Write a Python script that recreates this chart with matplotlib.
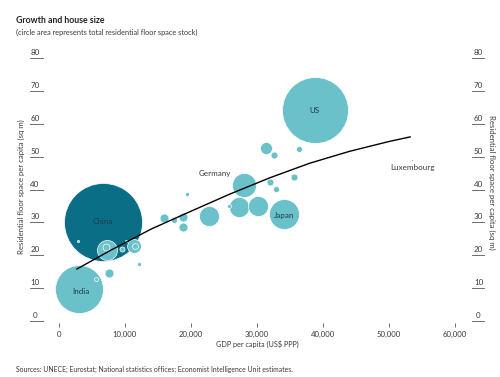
import matplotlib
matplotlib.use("Agg")
import matplotlib.pyplot as plt
from matplotlib import transforms

plt.rcParams['font.family'] = ['Lato', 'DejaVu Sans']

# GDP per capita (US$ PPP), floor space per capita (sq m), total stock (bn sq m)
gdp = [6700, 3000, 38800, 34100, 28000, 27300, 30150, 22700, 7270, 7120,
       11360, 11500, 9550, 10150, 2880, 12120, 5600, 7580, 19400, 15900,
       17400, 18800, 18800, 25760, 31360, 32580, 36360, 31970, 32880, 35600,
       53500]
floor = [30.1, 9.7, 64.2, 32.5, 41.4, 34.7, 35.0, 31.9, 21.6, 22.5,
         22.8, 22.8, 21.9, 24.3, 24.3, 17.3, 12.8, 14.6, 38.6, 31.3,
         30.7, 31.6, 28.6, 35.0, 52.6, 50.5, 52.3, 42.3, 40.2, 43.8,
         49.0]
stock = [38.0, 14.4, 27.2, 5.6, 3.6, 2.5, 2.5, 2.5, 2.5, 0.3,
         1.2, 0.22, 0.16, 0.03, 0.03, 0.1, 0.1, 0.5, 0.1, 0.5,
         0.23, 0.5, 0.5, 0.1, 0.9, 0.3, 0.23, 0.3, 0.23, 0.3,
         0.02]
names = ["China", "India", "US", "Japan", "Germany"]

# trend line
trend_x = [2700, 8000, 14000, 20000, 26000, 32000, 38000, 44000, 50000, 53200]
trend_y = [15.8, 21.7, 28.0, 33.4, 38.7, 43.6, 48.0, 51.6, 54.6, 56.0]

x_ticks = [0, 10000, 20000, 30000, 40000, 50000, 60000]
y_ticks = [0, 10, 20, 30, 40, 50, 60, 70, 80]

light = '#6bc1c9'
dark = '#0b6e87'
txt = '#3a3a3a'

fig = plt.figure(figsize=(5, 3.77), dpi=100)
ax = fig.add_axes([59/500, 56/377, 396/500, 263/377])
ax.set_xlim(0, 60000)
ax.set_ylim(0, 80)
for s in ax.spines.values():
    s.set_visible(False)
ax.spines['bottom'].set_position(('outward', 1.5))
ax.set_yticks([])
ax.set_xticks(x_ticks)
ax.set_xticklabels([f"{v:,}" for v in x_ticks])
ax.tick_params(axis='x', length=3, width=0.6, color='#555555', pad=2.5,
               labelsize=5.6, labelcolor=txt)

# bubbles, biggest first
order = sorted(range(len(gdp)), key=lambda i: -stock[i])
for i in order:
    ax.scatter(gdp[i], floor[i], s=stock[i] * 83,
               color=dark if i == 0 else light,
               edgecolors='white', linewidths=0.5, zorder=2, clip_on=False)

ax.plot(trend_x, trend_y, color='black', lw=1.0, zorder=3)

lab_col = '#1c3c48'
ax.text(gdp[0], 30.4, "China", ha='center', va='center', fontsize=5.8, color=lab_col, zorder=4)
ax.text(gdp[1] + 300, 9.1, "India", ha='center', va='center', fontsize=5.8, color=lab_col, zorder=4)
ax.text(38640, 63.9, "US", ha='center', va='center', fontsize=5.8, color=lab_col, zorder=4)
ax.text(gdp[3], 32.2, "Japan", ha='center', va='center', fontsize=5.8, color=lab_col, zorder=4)
ax.text(26100, 45.0, "Germany", ha='right', va='center', fontsize=5.8, color=txt, zorder=4)
ax.text(gdp[-1], 46.6, "Luxembourg", ha='center', va='center', fontsize=5.8, color=txt, zorder=4)

# underlined y tick labels on both sides
tr = transforms.blended_transform_factory(fig.transFigure, ax.transData)
for v in y_ticks:
    ax.plot([30/500, 43/500], [v, v], transform=tr, color='#555555', lw=0.6, clip_on=False)
    ax.text(35/500, v + 0.6, str(v), transform=tr, ha='center', va='bottom',
            fontsize=5.8, color=txt)
    ax.plot([472/500, 484/500], [v, v], transform=tr, color='#555555', lw=0.6, clip_on=False)
    ax.text(478.5/500, v + 0.6, str(v), transform=tr, ha='center', va='bottom',
            fontsize=5.8, color=txt)

ylab = "Residential floor space per capita (sq m)"
fig.text(21/500, 1 - 187/377, ylab, rotation=90, ha='center', va='center', fontsize=5.6, color=txt)
fig.text(492/500, 1 - 182/377, ylab, rotation=-90, ha='center', va='center', fontsize=5.6, color=txt)
fig.text(257/500, 1 - 344/377, "GDP per capita (US$ PPP)", ha='center', va='center',
         fontsize=5.2, color=txt)

fig.text(16/500, 1 - 20.5/377, "Growth and house size", ha='left', va='center',
         fontsize=6.3, fontweight='bold', color='#222222')
fig.text(16/500, 1 - 32/377, "(circle area represents total residential floor space stock)",
         ha='left', va='center', fontsize=5.3, color=txt)
fig.text(16/500, 1 - 369/377,
         "Sources: UNECE; Eurostat; National statistics offices; Economist Intelligence Unit estimates.",
         ha='left', va='center', fontsize=4.95, color=txt)

fig.savefig("out.png", dpi=100)
